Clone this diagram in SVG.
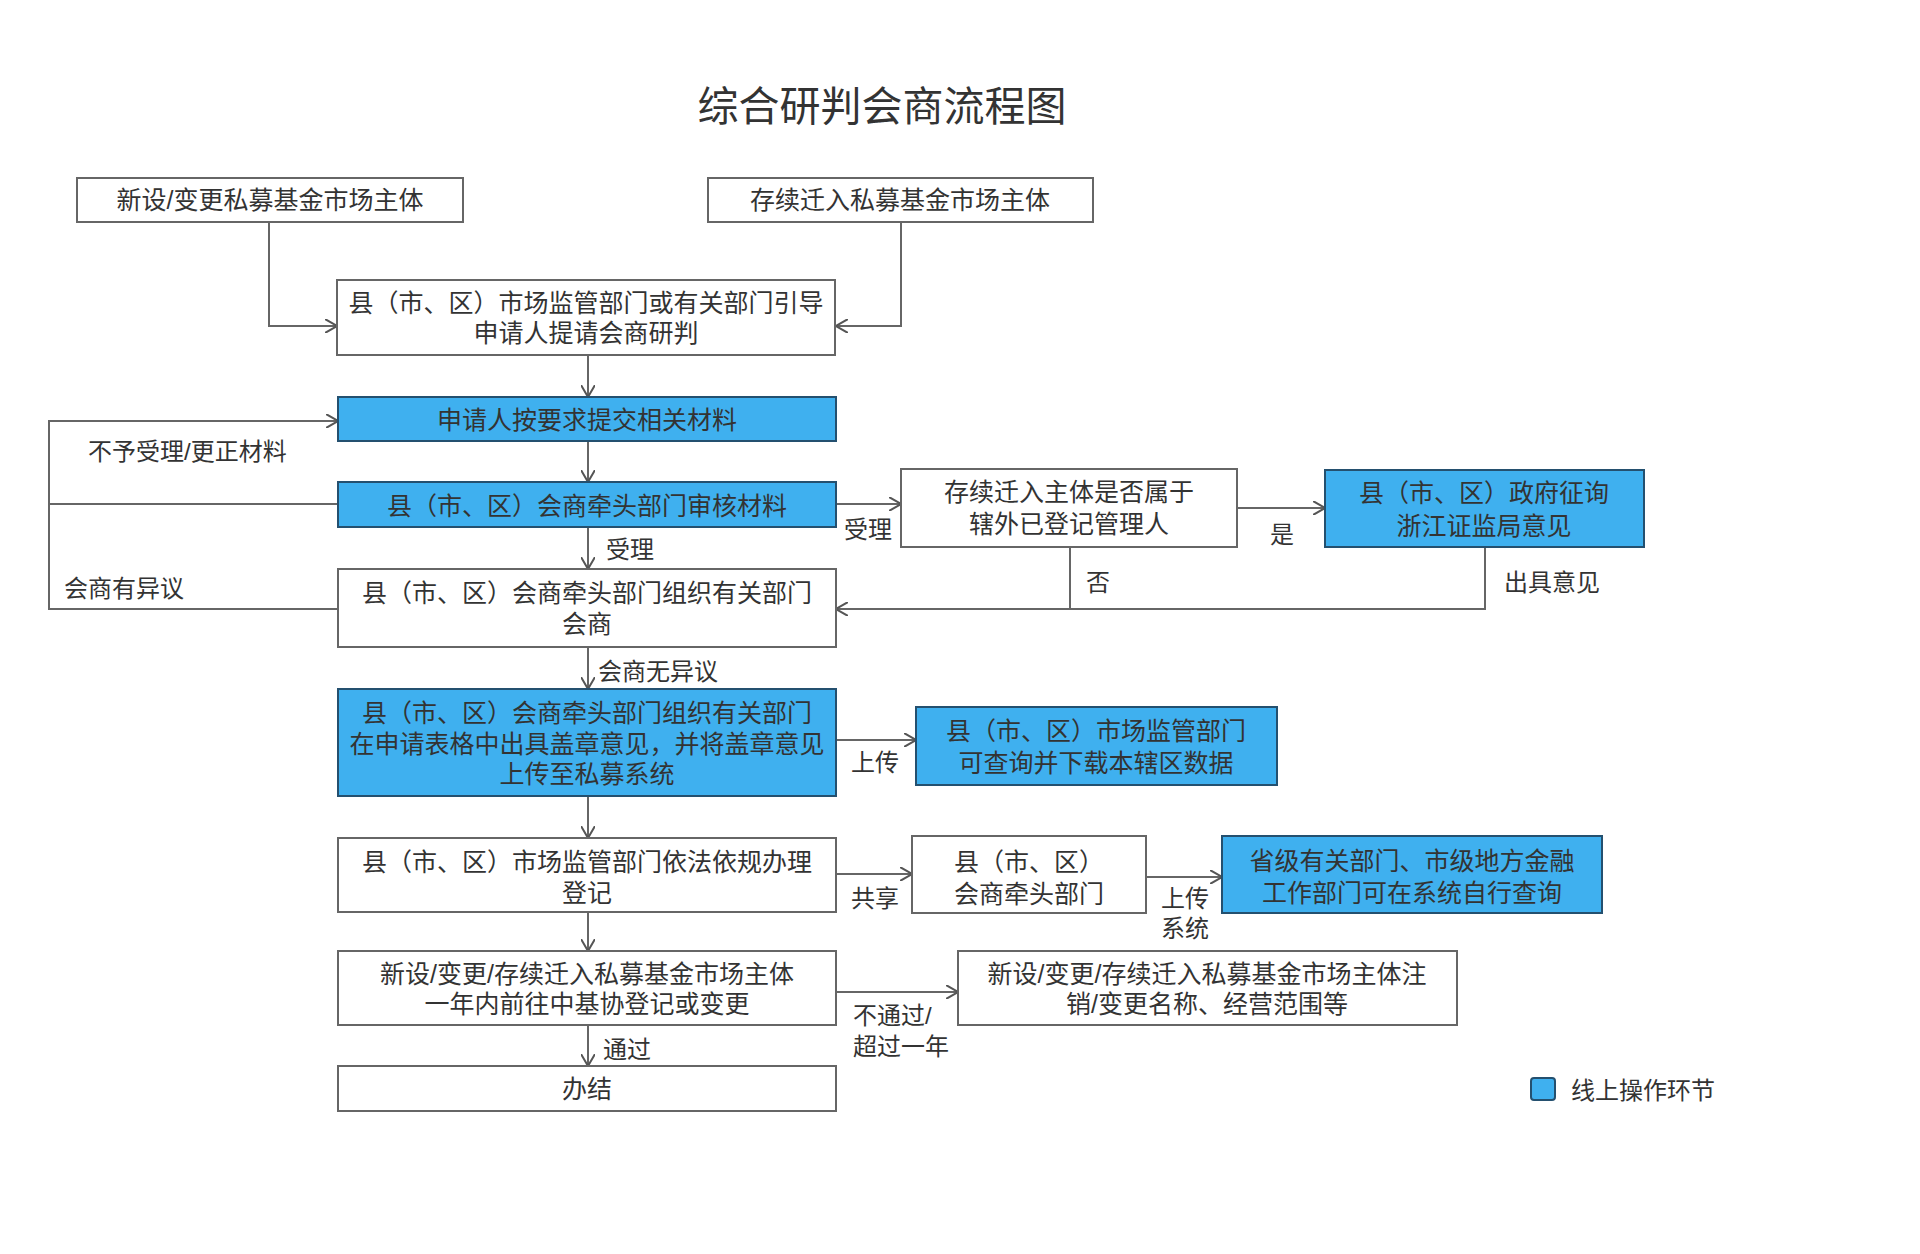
<svg xmlns="http://www.w3.org/2000/svg" width="1920" height="1254" viewBox="0 0 1920 1254">
<style>
text{font-family:"Liberation Sans","Noto Sans CJK SC",sans-serif;fill:#333;font-size:24px;dominant-baseline:central}
.c{text-anchor:middle;font-size:25px}
.w{fill:#fff;stroke:#666;stroke-width:2}
.b{fill:#3fb0ef;stroke:#24506f;stroke-width:2}
.ln{fill:none;stroke:#666;stroke-width:2}
.t{font-size:41px}
</style>
<defs>
<marker id="ar" viewBox="0 0 12 14" refX="12" refY="7" markerWidth="12" markerHeight="14" markerUnits="userSpaceOnUse" orient="auto">
<path d="M0,0 L12,7 L0,14" fill="none" stroke="#555" stroke-width="2"/>
</marker>
</defs>
<rect width="1920" height="1254" fill="#fff"/>
<text class="c t" x="882" y="107">综合研判会商流程图</text>

<g id="connectors">
<path class="ln" d="M269 222 V326 H337" marker-end="url(#ar)"/>
<path class="ln" d="M901 222 V326 H836" marker-end="url(#ar)"/>
<path class="ln" d="M588 355 V397" marker-end="url(#ar)"/>
<path class="ln" d="M588 441 V482" marker-end="url(#ar)"/>
<path class="ln" d="M588 527 V569" marker-end="url(#ar)"/>
<path class="ln" d="M588 647 V689" marker-end="url(#ar)"/>
<path class="ln" d="M588 796 V838" marker-end="url(#ar)"/>
<path class="ln" d="M588 912 V951" marker-end="url(#ar)"/>
<path class="ln" d="M588 1025 V1066" marker-end="url(#ar)"/>
<path class="ln" d="M338 609 H49 V421 H338" marker-end="url(#ar)"/>
<path class="ln" d="M338 504 H49"/>
<path class="ln" d="M837 504 H901" marker-end="url(#ar)"/>
<path class="ln" d="M1237 508 H1325" marker-end="url(#ar)"/>
<path class="ln" d="M1070 547 V609"/>
<path class="ln" d="M1485 547 V609 H836" marker-end="url(#ar)"/>
<path class="ln" d="M836 740 H916" marker-end="url(#ar)"/>
<path class="ln" d="M836 874 H912" marker-end="url(#ar)"/>
<path class="ln" d="M1146 877 H1222" marker-end="url(#ar)"/>
<path class="ln" d="M836 992 H958" marker-end="url(#ar)"/>
<text x="88" y="451">不予受理/更正材料</text>
<text x="64" y="588">会商有异议</text>
<text x="606" y="549">受理</text>
<text x="844" y="529">受理</text>
<text x="1270" y="534">是</text>
<text x="1086" y="582">否</text>
<text x="1504" y="582">出具意见</text>
<text x="598" y="671">会商无异议</text>
<text x="851" y="762">上传</text>
<text x="851" y="898">共享</text>
<text><tspan x="1161" y="898">上传</tspan><tspan x="1161" y="928">系统</tspan></text>
<text><tspan x="853" y="1015">不通过/</tspan><tspan x="853" y="1046">超过一年</tspan></text>
<text x="603" y="1049">通过</text>
</g>

<g id="n1"><rect class="w" x="77" y="178" width="386" height="44"/><text class="c" x="270" y="200">新设/变更私募基金市场主体</text></g>
<g id="n2"><rect class="w" x="708" y="178" width="385" height="44"/><text class="c" x="900" y="200">存续迁入私募基金市场主体</text></g>
<g id="n3"><rect class="w" x="337" y="280" width="498" height="75"/><text class="c"><tspan x="586" y="303">县（市、区）市场监管部门或有关部门引导</tspan><tspan x="586" y="333">申请人提请会商研判</tspan></text></g>
<g id="n4"><rect class="b" x="338" y="397" width="498" height="44"/><text class="c" x="587" y="420">申请人按要求提交相关材料</text></g>
<g id="n5"><rect class="b" x="338" y="482" width="498" height="45"/><text class="c" x="587" y="506">县（市、区）会商牵头部门审核材料</text></g>
<g id="n6"><rect class="w" x="338" y="569" width="498" height="78"/><text class="c"><tspan x="587" y="593">县（市、区）会商牵头部门组织有关部门</tspan><tspan x="587" y="624">会商</tspan></text></g>
<g id="n7"><rect class="b" x="338" y="689" width="498" height="107"/><text class="c"><tspan x="587" y="713">县（市、区）会商牵头部门组织有关部门</tspan><tspan x="587" y="744">在申请表格中出具盖章意见，并将盖章意见</tspan><tspan x="587" y="774">上传至私募系统</tspan></text></g>
<g id="n8"><rect class="w" x="338" y="838" width="498" height="74"/><text class="c"><tspan x="587" y="862">县（市、区）市场监管部门依法依规办理</tspan><tspan x="587" y="893">登记</tspan></text></g>
<g id="n9"><rect class="w" x="338" y="951" width="498" height="74"/><text class="c"><tspan x="587" y="974">新设/变更/存续迁入私募基金市场主体</tspan><tspan x="587" y="1004">一年内前往中基协登记或变更</tspan></text></g>
<g id="n10"><rect class="w" x="338" y="1066" width="498" height="45"/><text class="c" x="587" y="1089">办结</text></g>
<g id="n11"><rect class="w" x="901" y="469" width="336" height="78"/><text class="c"><tspan x="1069" y="492">存续迁入主体是否属于</tspan><tspan x="1069" y="524">辖外已登记管理人</tspan></text></g>
<g id="n12"><rect class="b" x="1325" y="470" width="319" height="77"/><text class="c"><tspan x="1484" y="493">县（市、区）政府征询</tspan><tspan x="1484" y="526">浙江证监局意见</tspan></text></g>
<g id="n13"><rect class="b" x="916" y="707" width="361" height="78"/><text class="c"><tspan x="1096" y="731">县（市、区）市场监管部门</tspan><tspan x="1096" y="763">可查询并下载本辖区数据</tspan></text></g>
<g id="n14"><rect class="w" x="912" y="836" width="234" height="77"/><text class="c"><tspan x="1029" y="862">县（市、区）</tspan><tspan x="1029" y="894">会商牵头部门</tspan></text></g>
<g id="n15"><rect class="b" x="1222" y="836" width="380" height="77"/><text class="c"><tspan x="1412" y="861">省级有关部门、市级地方金融</tspan><tspan x="1412" y="893">工作部门可在系统自行查询</tspan></text></g>
<g id="n16"><rect class="w" x="958" y="951" width="499" height="74"/><text class="c"><tspan x="1207" y="974">新设/变更/存续迁入私募基金市场主体注</tspan><tspan x="1207" y="1004">销/变更名称、经营范围等</tspan></text></g>
<g id="legend"><rect class="b" x="1531" y="1078" width="24" height="22" rx="3"/><text x="1571" y="1090">线上操作环节</text></g>
</svg>
